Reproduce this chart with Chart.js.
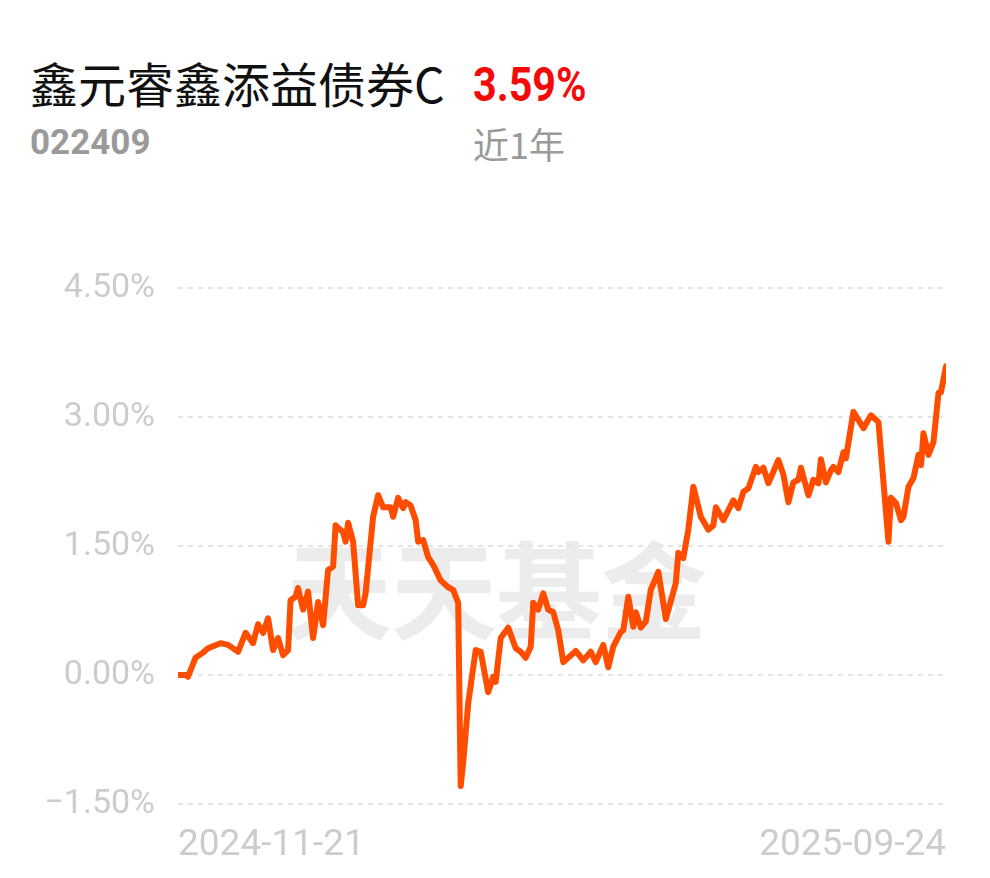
<!DOCTYPE html>
<html>
<head>
<meta charset="utf-8">
<script src="https://cdn.jsdelivr.net/npm/chart.js@4"></script>
<style>
  html, body { margin: 0; padding: 0; background: #fff; }
  body { width: 990px; height: 878px; position: relative; overflow: hidden; font-family: Roboto, "Noto Sans CJK SC", sans-serif; }
  .name { position: absolute; left: 30px; top: 52px; font: 48px "Noto Sans CJK SC", Roboto, sans-serif; color: #111; line-height: 60px; white-space: nowrap; }
  .ret { position: absolute; left: 473px; top: 55px; font: 700 48px Roboto, sans-serif; color: #f50a0a; line-height: 60px; transform: scaleX(0.86); transform-origin: left center; }
  .code { position: absolute; left: 30px; top: 118px; font: 700 35px Roboto, sans-serif; color: #9a9a9a; line-height: 50px; }
  .period { position: absolute; left: 473px; top: 118px; font: 36px "Noto Sans CJK SC", sans-serif; color: #9a9a9a; line-height: 50px; }
  .mark { position: absolute; left: 286px; top: 510px; font: 700 106px "Noto Sans CJK SC", sans-serif; color: #ececec; line-height: 150px; white-space: nowrap; letter-spacing: -1px; }
  #wrap { position: absolute; left: 0; top: 240px; width: 990px; height: 638px; }
</style>
</head>
<body>
<div class="name">鑫元睿鑫添益债券C</div>
<div class="ret">3.59%</div>
<div class="code">022409</div>
<div class="period">近1年</div>
<div class="mark">天天基金</div>
<div id="wrap"><canvas id="chart"></canvas></div>
<script>
// days since 2024-11-21
const days = [
    0, 3, 4, 7, 10, 12, 17, 20, 24, 27, 30, 32, 34, 36, 38, 40, 42, 44, 45, 47,
    48, 50, 52, 54, 56, 58, 60, 62, 63, 66, 67, 68, 70, 72, 74, 75, 78, 80, 82, 85,
    86, 88, 90, 91, 93, 95, 96, 98, 100, 102, 105, 108, 110, 112, 113, 114, 116, 119, 121, 124,
    126, 127, 129, 132, 135, 137, 139, 141, 142, 144, 146, 148, 150, 152, 154, 156, 159, 162, 165, 167,
    170, 172, 174, 177, 178, 180, 182, 183, 185, 187, 189, 192, 195, 199, 200, 202, 204, 206, 209, 212,
    214, 215, 218, 222, 224, 226, 228, 231, 232, 234, 236, 240, 242, 244, 246, 248, 249, 252, 254, 256,
    257, 259, 261, 262, 264, 266, 267, 270, 274, 277, 280, 284, 285, 287, 289, 290, 292, 294, 296, 297,
    298, 300, 302, 304, 305, 307
];

// cumulative return, %
const returns = [
    0.00, 0.00, -0.02, 0.20, 0.26, 0.31, 0.37, 0.35, 0.27, 0.49, 0.37, 0.59, 0.49, 0.66, 0.29, 0.43, 0.23, 0.29, 0.87, 0.91,
    1.01, 0.76, 0.97, 0.43, 0.85, 0.58, 1.22, 1.26, 1.74, 1.66, 1.55, 1.77, 1.55, 0.81, 0.81, 0.95, 1.84, 2.09, 1.95, 1.95,
    1.84, 2.06, 1.94, 2.01, 1.97, 1.80, 1.55, 1.57, 1.37, 1.28, 1.10, 1.02, 0.99, 0.84, -1.29, -1.02, -0.33, 0.29, 0.27, -0.20,
    -0.02, -0.08, 0.43, 0.55, 0.31, 0.27, 0.20, 0.33, 0.84, 0.76, 0.95, 0.76, 0.73, 0.52, 0.15, 0.20, 0.28, 0.17, 0.27, 0.15,
    0.35, 0.09, 0.33, 0.50, 0.52, 0.91, 0.56, 0.73, 0.55, 0.62, 0.99, 1.20, 0.65, 1.07, 1.42, 1.36, 1.69, 2.19, 1.84, 1.69,
    1.74, 1.95, 1.80, 2.03, 1.94, 2.13, 2.17, 2.42, 2.36, 2.41, 2.23, 2.50, 2.33, 2.01, 2.24, 2.27, 2.41, 2.09, 2.27, 2.23,
    2.51, 2.24, 2.38, 2.42, 2.36, 2.59, 2.52, 3.06, 2.87, 3.02, 2.94, 1.55, 2.06, 2.00, 1.80, 1.84, 2.19, 2.29, 2.56, 2.44,
    2.81, 2.56, 2.71, 3.28, 3.29, 3.59
];

const yTicks = [-1.5, 0, 1.5, 3, 4.5];
const xTickDays = [0, 307];
const xTickLabels = ['2024-11-21', '2025-09-24'];

const lineColor = '#ff4d00';
const tickColor = '#cccccc';

new Chart(document.getElementById('chart'), {
    type: 'line',
    data: {
        datasets: [{
            data: days.map((d, i) => ({ x: d, y: returns[i] })),
            borderColor: lineColor,
            borderWidth: 6,
            borderJoinStyle: 'round',
            borderCapStyle: 'round',
            pointRadius: 0,
            tension: 0,
            fill: false,
        }]
    },
    options: {
        responsive: true,
        maintainAspectRatio: false,
        animation: false,
        layout: { padding: { top: 48, right: 44, left: 0, bottom: 0 } },
        plugins: {
            legend: { display: false },
            tooltip: { enabled: false }
        },
        scales: {
            x: {
                type: 'linear',
                min: xTickDays[0],
                max: xTickDays[xTickDays.length - 1],
                afterBuildTicks: scale => { scale.ticks = xTickDays.map(v => ({ value: v })); },
                afterFit: scale => { scale.height = 74; },
                grid: { display: false, drawTicks: false },
                border: { display: false },
                ticks: {
                    autoSkip: false,
                    maxRotation: 0,
                    align: 'inner',
                    padding: 20,
                    color: tickColor,
                    font: { family: 'Roboto', size: 37 },
                    callback: (v, i) => xTickLabels[i]
                }
            },
            y: {
                min: yTicks[0],
                max: yTicks[yTicks.length - 1],
                afterBuildTicks: scale => { scale.ticks = yTicks.map(v => ({ value: v })); },
                afterFit: scale => { scale.width = 178; },
                grid: { color: '#e4e4e4', lineWidth: 2, drawTicks: false },
                border: { display: false, dash: [5, 5] },
                ticks: {
                    padding: 23,
                    color: tickColor,
                    font: { family: 'Roboto', size: 34 },
                    callback: v => (v < 0 ? '\u2212' : '') + Math.abs(v).toFixed(2) + '%'
                }
            }
        }
    }
});
</script>
</body>
</html>
